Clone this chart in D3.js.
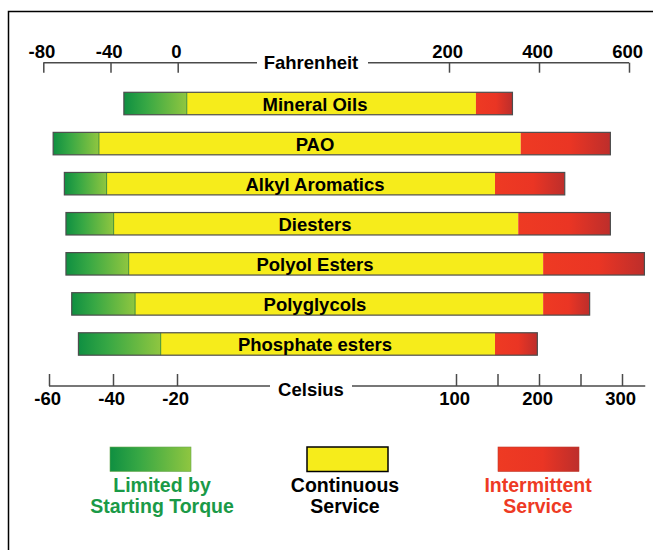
<!DOCTYPE html>
<html>
<head>
<meta charset="utf-8">
<script src="https://cdn.jsdelivr.net/npm/d3@7/dist/d3.min.js"></script>
<style>
  html, body { margin: 0; padding: 0; background: #fff; }
  svg { display: block; }
  text { font-family: "Liberation Sans", Arial, Helvetica, sans-serif; font-weight: bold; }
</style>
</head>
<body>
<div id="chart"></div>
<script>
// ---- data (temperatures in °C) ----
const fluids = ["Mineral Oils", "PAO", "Alkyl Aromatics", "Diesters", "Polyol Esters", "Polyglycols", "Phosphate esters"];
const torqueStart = [-36.6, -58.7, -55.2, -54.7, -54.7, -52.9, -50.8];   // start of "limited by starting torque"
const continuousStart = [-15.8, -44.4, -42.0, -39.8, -35.1, -33.1, -25.1];
const intermittentStart = [124, 178, 147, 175, 205, 205, 147];
const intermittentEnd = [168, 286, 231, 286, 327, 261, 198];

const fahrenheitTicks = [-80, -40, 0, 200, 400, 600];
const fahrenheitLabels = ["-80", "-40", "0", "200", "400", "600"];
const celsiusTicks = [-60, -40, -20, 100, 150, 200, 250, 300];
const celsiusLabels = ["-60", "-40", "-20", "100", "", "200", "", "300"];
const celsiusAxisEnd = 328;

const legendNames = [["Limited by", "Starting Torque"], ["Continuous", "Service"], ["Intermittent", "Service"]];
const legendColors = ["#1a9a47", "#000000", "#ee3a24"];

// ---- layout ----
const W = 653, H = 550;
const svg = d3.select("#chart").append("svg").attr("width", W).attr("height", H);

const defs = svg.append("defs");
const gGreen = defs.append("linearGradient").attr("id", "gGreen").attr("x1", 0).attr("x2", 1).attr("y1", 0).attr("y2", 0);
gGreen.append("stop").attr("offset", 0).attr("stop-color", "#0f8f41");
gGreen.append("stop").attr("offset", 0.35).attr("stop-color", "#36a744");
gGreen.append("stop").attr("offset", 1).attr("stop-color", "#8fc640");
const gRed = defs.append("linearGradient").attr("id", "gRed").attr("x1", 0).attr("x2", 1).attr("y1", 0).attr("y2", 0);
gRed.append("stop").attr("offset", 0).attr("stop-color", "#ee3a23");
gRed.append("stop").attr("offset", 0.55).attr("stop-color", "#ea3524");
gRed.append("stop").attr("offset", 1).attr("stop-color", "#bd2e2b");

// frame
svg.append("path").attr("d", `M8.5,${H} V11.5 H${W}`).attr("fill", "none").attr("stroke", "#000").attr("stroke-width", 1.5);

// piecewise scales (the original uses a non-uniform temperature scale)
const xC = d3.scaleLinear().domain([-60, -20, 100, 300]).range([49, 177, 456, 622]);
const xF = d3.scaleLinear().domain([-80, 0, 200, 600]).range([43.3, 177.7, 449, 629]);

const y = d3.scaleBand().domain(fluids).range([92.3, 355.2]).paddingInner(0.44).paddingOuter(0);

const axisColor = "#4a4a4a";
const fontStack = "'Liberation Sans', Arial, Helvetica, sans-serif";

// ---- top axis (Fahrenheit) ----
const topY = 62.7;
const topAxis = svg.append("g").attr("transform", `translate(0,${topY})`)
  .call(d3.axisTop(xF).tickValues(fahrenheitTicks).tickSize(-10).tickPadding(5)
    .tickFormat((d, i) => fahrenheitLabels[i]));
topAxis.select(".domain").remove();
topAxis.selectAll(".tick line").attr("stroke", axisColor).attr("stroke-width", 1.5);
topAxis.selectAll(".tick text").attr("fill", "#000").style("font-size", "18.5px").style("font-family", fontStack).style("font-weight", "bold").attr("dx", "-0.1em");
topAxis.insert("line", ":first-child").attr("x1", xF(-80)).attr("x2", xF(600)).attr("y1", 0).attr("y2", 0)
  .attr("stroke", axisColor).attr("stroke-width", 1.5);
topAxis.append("rect").attr("x", 257).attr("y", -10).attr("width", 111).attr("height", 20).attr("fill", "#fff");
topAxis.append("text").attr("x", 311).attr("y", 6.6).attr("text-anchor", "middle")
  .style("font-size", "18.5px").attr("fill", "#000").text("Fahrenheit");

// ---- bottom axis (Celsius) ----
const botY = 386;
const botAxis = svg.append("g").attr("transform", `translate(0,${botY})`)
  .call(d3.axisBottom(xC).tickValues(celsiusTicks).tickSize(-12).tickPadding(6)
    .tickFormat((d, i) => celsiusLabels[i]));
botAxis.select(".domain").remove();
botAxis.selectAll(".tick line").attr("stroke", axisColor).attr("stroke-width", 1.5);
botAxis.selectAll(".tick text").attr("fill", "#000").style("font-size", "18.5px").style("font-family", fontStack).style("font-weight", "bold").attr("dx", "-0.1em");
botAxis.insert("line", ":first-child").attr("x1", xC(-60)).attr("x2", xC(celsiusAxisEnd)).attr("y1", 0).attr("y2", 0)
  .attr("stroke", axisColor).attr("stroke-width", 1.5);
botAxis.append("rect").attr("x", 270).attr("y", -10).attr("width", 82).attr("height", 20).attr("fill", "#fff");
botAxis.append("text").attr("x", 311).attr("y", 9.7).attr("text-anchor", "middle")
  .style("font-size", "18.5px").attr("fill", "#000").text("Celsius");

// ---- bars ----
const rows = fluids.map((name, i) => ({
  name, t0: torqueStart[i], c0: continuousStart[i], i0: intermittentStart[i], i1: intermittentEnd[i]
}));
const bars = svg.append("g").selectAll("g").data(rows).join("g")
  .attr("transform", d => `translate(0,${y(d.name)})`);
const bh = y.bandwidth();

bars.append("rect").attr("x", d => xC(d.t0)).attr("width", d => xC(d.c0) - xC(d.t0)).attr("height", bh).attr("fill", "url(#gGreen)");
bars.append("rect").attr("x", d => xC(d.c0)).attr("width", d => xC(d.i0) - xC(d.c0)).attr("height", bh).attr("fill", "#f6ec1b");
bars.append("rect").attr("x", d => xC(d.i0)).attr("width", d => xC(d.i1) - xC(d.i0)).attr("height", bh).attr("fill", "url(#gRed)");
bars.append("line").attr("x1", d => xC(d.c0)).attr("x2", d => xC(d.c0)).attr("y1", 0).attr("y2", bh)
  .attr("stroke", "#3f8f3a").attr("stroke-width", 1);
bars.append("rect").attr("x", d => xC(d.t0)).attr("width", d => xC(d.i1) - xC(d.t0)).attr("height", bh)
  .attr("fill", "none").attr("stroke", "#4d4d4d").attr("stroke-width", 1.2);
bars.append("text").attr("x", 315).attr("y", bh - 3.8).attr("text-anchor", "middle")
  .style("font-size", "18.5px").attr("fill", "#000").text(d => d.name);

// ---- legend ----
const legendX = [110, 307, 498];
const legendFill = ["url(#gGreen)", "#f6ec1b", "url(#gRed)"];
const legendStroke = ["#6aa84f", "#000", "#c0392b"];
const lg = svg.append("g").selectAll("g").data(legendNames).join("g")
  .attr("transform", (d, i) => `translate(${legendX[i]},447)`);
lg.append("rect").attr("width", 81).attr("height", 24.5)
  .attr("fill", (d, i) => legendFill[i])
  .attr("stroke", (d, i) => legendStroke[i]).attr("stroke-width", (d, i) => i === 1 ? 1.5 : 0.6);
const legendTextX = [52, 38, 40];
lg.append("text").attr("x", (d, i) => legendTextX[i]).attr("y", 44.7).attr("text-anchor", "middle")
  .style("font-size", "19.5px").attr("fill", (d, i) => legendColors[i]).text(d => d[0]);
lg.append("text").attr("x", (d, i) => legendTextX[i]).attr("y", 66.3).attr("text-anchor", "middle")
  .style("font-size", "19.5px").attr("fill", (d, i) => legendColors[i]).text(d => d[1]);
</script>
</body>
</html>
